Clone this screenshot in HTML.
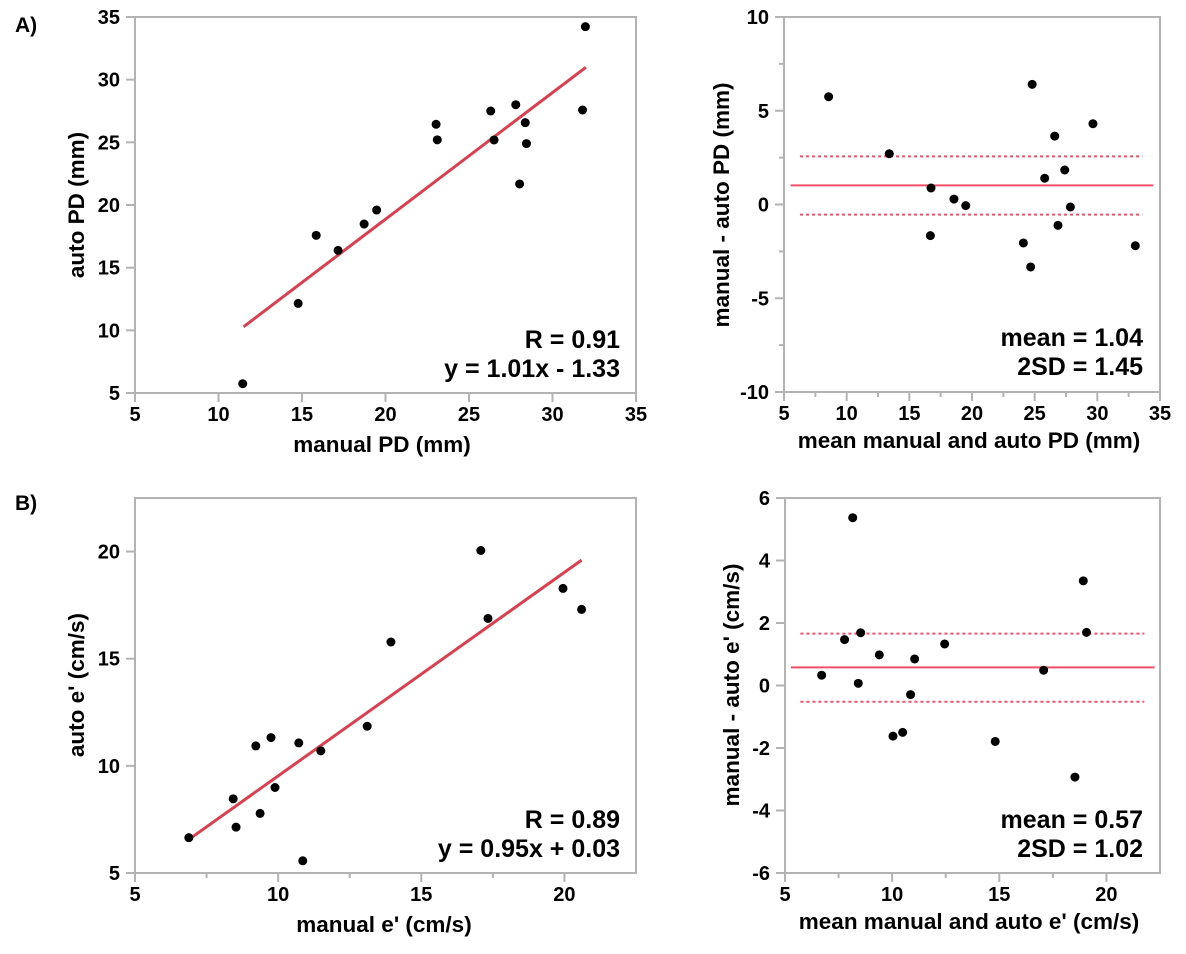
<!DOCTYPE html>
<html><head><meta charset="utf-8"><style>
html,body{margin:0;padding:0;background:#fff;}
svg{display:block;font-family:"Liberation Sans",Arial,sans-serif;}
.tick{font-size:20px;font-weight:bold;fill:#000;}
.title{font-size:22.5px;font-weight:bold;fill:#000;}
.ann{font-size:25px;font-weight:bold;fill:#000;}
</style></head><body>
<svg id="chart" width="1186" height="954" viewBox="0 0 1186 954" xmlns="http://www.w3.org/2000/svg">
<text x="15" y="32" font-size="21" font-weight="bold">A)</text>
<text x="15" y="510" font-size="21" font-weight="bold">B)</text>
</svg>
<script>
// Panel A-left: manual vs auto PD
const aLeftX = [11.45,14.77,15.85,17.16,18.72,19.47,23.03,23.1,26.3,26.5,27.8,28.37,28.44,28.03,31.8,31.97];
const aLeftY = [5.74,12.15,17.58,16.38,18.48,19.6,26.44,25.2,27.5,25.19,28.0,26.57,24.9,21.68,27.58,34.23];
const aLeftFit = [1.01,-1.33];
const aLeftFitRange = [11.5,32];
const aLeftTicks = [5,10,15,20,25,30,35];
// Panel A-right: Bland-Altman PD
const aRightX = [8.56,13.4,16.73,16.68,18.56,19.5,24.1,24.68,24.8,25.8,26.6,26.86,27.4,27.85,29.65,33.03];
const aRightY = [5.75,2.71,0.88,-1.66,0.29,-0.06,-2.05,-3.33,6.41,1.4,3.65,-1.11,1.84,-0.13,4.31,-2.2];
const aRightMean = [1.02];
const aRightLimits = [2.57,-0.54];
const aRightXTicks = [5,10,15,20,25,30,35];
const aRightYTicks = [-10,-5,0,5,10];
// Panel B-left: manual vs auto e'
const bLeftX = [6.88,8.43,8.53,9.22,9.37,9.75,9.89,10.72,11.49,10.86,13.11,13.94,17.08,17.33,19.95,20.6];
const bLeftY = [6.65,8.46,7.14,10.93,7.78,11.32,8.99,11.07,10.7,5.57,11.85,15.78,20.05,16.88,18.28,17.3];
const bLeftFit = [0.95,0.03];
const bLeftFitRange = [6.9,20.6];
const bLeftXTicks = [5,10,15,20];
const bLeftYTicks = [5,10,15,20];
// Panel B-right: Bland-Altman e'
const bRightX = [6.71,7.78,8.16,8.42,8.53,9.4,10.04,10.49,10.86,11.05,12.45,14.81,17.07,18.53,18.92,19.07];
const bRightY = [0.33,1.47,5.37,0.07,1.69,0.98,-1.62,-1.5,-0.29,0.85,1.33,-1.79,0.49,-2.93,3.35,1.7];
const bRightMean = [0.58];
const bRightLimits = [1.66,-0.52];
const bRightXTicks = [5,10,15,20];
const bRightYTicks = [-6,-4,-2,0,2,4,6];

const NS='http://www.w3.org/2000/svg';
const svg=document.getElementById('chart');
function mk(tag,attrs,parent){const e=document.createElementNS(NS,tag);for(const k in attrs)e.setAttribute(k,attrs[k]);(parent||svg).appendChild(e);return e;}

function panel(p){
  const g=mk('g',{});
  
  
  const sx=v=>p.x0+(v-p.xr[0])/(p.xr[1]-p.xr[0])*(p.x1-p.x0);
  const sy=v=>p.y1-(v-p.yr[0])/(p.yr[1]-p.yr[0])*(p.y1-p.y0);
  const frame=mk('rect',{x:p.x0,y:p.y0,width:p.x1-p.x0,height:p.y1-p.y0,fill:'none',stroke:'#b3b3b3','stroke-width':2},g);
  
  
  p.xt.forEach(v=>{
    const X=sx(v);
    mk('line',{x1:X,x2:X,y1:p.y1,y2:p.y1+9,stroke:'#b3b3b3','stroke-width':2},g);
    const t=mk('text',{x:X,y:p.y1+28,'text-anchor':'middle',class:'tick'},g);
    
    
    t.textContent=v;
  });
  if(p.xminor){for(let i=0;i<p.xt.length;i++){const v=p.xt[i]+(p.xt[1]-p.xt[0])/2;if(v<p.xr[1]){const X=sx(v);mk('line',{x1:X,x2:X,y1:p.y1,y2:p.y1+5,stroke:'#b3b3b3','stroke-width':2},g);}}}
  p.yt.forEach(v=>{
    const Y=sy(v);
    mk('line',{x1:p.x0-9,x2:p.x0,y1:Y,y2:Y,stroke:'#b3b3b3','stroke-width':2},g);
    const t=mk('text',{x:p.x0-15,y:Y+7,'text-anchor':'end',class:'tick'},g);
    
    
    t.textContent=v;
  });
  if(p.yminor){for(let i=0;i<p.yt.length-1;i++){const Y=sy((p.yt[i]+p.yt[i+1])/2);mk('line',{x1:p.x0-5,x2:p.x0,y1:Y,y2:Y,stroke:'#b3b3b3','stroke-width':2},g);}}
  const xt=mk('text',{x:p.xtx,y:p.xty,'text-anchor':'middle',class:'title'},g);
  
  
  xt.textContent=p.xtitle;
  const yt=mk('text',{x:p.ytx,y:p.yty,'text-anchor':'middle',class:'title',transform:`rotate(-90 ${p.ytx} ${p.yty})`},g);
  
  
  yt.textContent=p.ytitle;
  if(p.fit){
    const l=mk('line',{x1:sx(p.fr[0]),y1:sy(p.fit[0]*p.fr[0]+p.fit[1]),x2:sx(p.fr[1]),y2:sy(p.fit[0]*p.fr[1]+p.fit[1]),stroke:'#d9404f','stroke-width':3},g);
    
    
  }
  if(p.mean){
    const l=mk('line',{x1:sx(p.mr[0]),x2:sx(p.mr[1]),y1:sy(p.mean[0]),y2:sy(p.mean[0]),stroke:'#f0506a','stroke-width':2},g);
    
    
    p.lim.forEach(v=>{
      const d=mk('line',{x1:sx(p.lr[0]),x2:sx(p.lr[1]),y1:sy(v),y2:sy(v),stroke:'#f0506a','stroke-width':2,'stroke-dasharray':'3,3'},g);
      
      
    });
  }
  p.xs.forEach((v,i)=>{
    const c=mk('circle',{cx:sx(v),cy:sy(p.ys[i]),r:4.5,fill:'#000'},g);
    
    
  });
  p.ann.forEach((s,i)=>{
    const t=mk('text',{x:p.annx,y:p.anny+i*29,'text-anchor':'end',class:'ann'},g);
    
    
    t.textContent=s;
  });
}

panel({name:'panel-a-scatter',x0:135,x1:636,y0:17,y1:393,xr:[5,35],yr:[5,35],xt:aLeftTicks,yt:aLeftTicks,
  xs:aLeftX,ys:aLeftY,fit:aLeftFit,fr:aLeftFitRange,xtitle:'manual PD (mm)',ytitle:'auto PD (mm)',
  xtx:382,xty:452,ytx:84,yty:205,ann:['R = 0.91','y = 1.01x - 1.33'],annx:620,anny:348});
panel({name:'panel-a-bland-altman',x0:784,x1:1160,y0:17,y1:392,xr:[5,35],yr:[-10,10],xt:aRightXTicks,yt:aRightYTicks,xminor:true,yminor:true,
  xs:aRightX,ys:aRightY,mean:aRightMean,lim:aRightLimits,mr:[5.53,34.47],lr:[6.28,33.6],
  xtitle:'mean manual and auto PD (mm)',ytitle:'manual - auto PD (mm)',
  xtx:969,xty:448,ytx:729,yty:205,ann:['mean = 1.04','2SD = 1.45'],annx:1143,anny:346});
panel({name:'panel-b-scatter',x0:135,x1:636,y0:498,y1:873,xr:[5,22.5],yr:[5,22.5],xt:bLeftXTicks,yt:bLeftYTicks,xminor:true,
  xs:bLeftX,ys:bLeftY,fit:bLeftFit,fr:bLeftFitRange,xtitle:"manual e' (cm/s)",ytitle:"auto e' (cm/s)",
  xtx:384,xty:932,ytx:84,yty:685,ann:['R = 0.89','y = 0.95x + 0.03'],annx:620,anny:828});
panel({name:'panel-b-bland-altman',x0:785,x1:1160,y0:498,y1:873,xr:[5,22.5],yr:[-6,6],xt:bRightXTicks,yt:bRightYTicks,xminor:true,
  xs:bRightX,ys:bRightY,mean:bRightMean,lim:bRightLimits,mr:[5.28,22.25],lr:[5.72,21.77],
  xtitle:"mean manual and auto e' (cm/s)",ytitle:"manual - auto e' (cm/s)",
  xtx:969,xty:929,ytx:739,yty:685,ann:['mean = 0.57','2SD = 1.02'],annx:1143,anny:828});
</script>
</body></html>
